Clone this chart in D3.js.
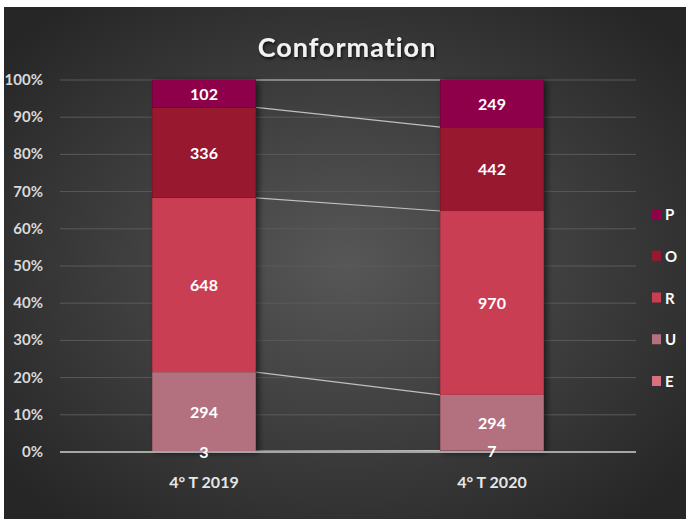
<!DOCTYPE html>
<html lang="en">
  <head>
    <meta charset="UTF-8" />
    <script src="https://d3js.org/d3.v7.min.js"></script>
    <style>
      body { margin: 0; background: #fff; }
      text { font-family: Lato, "Open Sans", sans-serif; font-weight: bold; }
    </style>
  </head>
  <body>
    <svg id="chart" width="686" height="519"></svg>
    <script>
      // data
      const categories = ["4° T 2019", "4° T 2020"];
      const seriesNames = ["E", "U", "R", "O", "P"];
      const E = [3, 7];
      const U = [294, 294];
      const R = [648, 970];
      const O = [336, 442];
      const P = [102, 249];
      const yTicks = [0, 0.1, 0.2, 0.3, 0.4, 0.5, 0.6, 0.7, 0.8, 0.9, 1];
      const colors = {
        E: "#d8707f",
        U: "#b3707e",
        R: "#c93e53",
        O: "#98192f",
        P: "#8e0049"
      };

      const values = { E, U, R, O, P };
      const rows = categories.map((c, i) => {
        const r = { cat: c };
        seriesNames.forEach(s => (r[s] = values[s][i]));
        return r;
      });

      const svg = d3.select("#chart");

      // background
      const defs = svg.append("defs");
      const grad = defs.append("radialGradient").attr("id", "bg")
        .attr("cx", "50%").attr("cy", "50%").attr("r", "65%");
      grad.append("stop").attr("offset", "0%").attr("stop-color", "#575757");
      grad.append("stop").attr("offset", "100%").attr("stop-color", "#262626");
      const shadow = defs.append("filter").attr("id", "shadow")
        .attr("x", "-20%").attr("y", "-10%").attr("width", "140%").attr("height", "120%");
      shadow.append("feDropShadow").attr("dx", 3).attr("dy", 1)
        .attr("stdDeviation", 3).attr("flood-color", "#000").attr("flood-opacity", 0.55);
      const tshadow = defs.append("filter").attr("id", "tshadow");
      tshadow.append("feDropShadow").attr("dx", 1).attr("dy", 2)
        .attr("stdDeviation", 1.5).attr("flood-color", "#000").attr("flood-opacity", 0.7);

      svg.append("rect").attr("x", 4).attr("y", 7).attr("width", 682).attr("height", 512)
        .attr("fill", "url(#bg)");

      const x = d3.scaleBand().domain(categories).range([60, 636])
        .paddingInner(0.64).paddingOuter(0.32);
      const y = d3.scaleLinear().domain([0, 1]).range([452, 80]);

      // grid
      svg.append("g").selectAll("line").data(yTicks.slice(1)).join("line")
        .attr("x1", 60).attr("x2", 636)
        .attr("y1", d => y(d)).attr("y2", d => y(d))
        .attr("stroke", "#5a5a5a").attr("stroke-width", 1);

      // y labels
      svg.append("g").selectAll("text").data(yTicks).join("text")
        .attr("x", 43).attr("y", d => y(d) + 5)
        .attr("text-anchor", "end").attr("fill", "#d9d9d9")
        .attr("font-size", 15)
        .text(d => d3.format(".0%")(d));

      // stacked percent
      const stack = d3.stack().keys(seriesNames).offset(d3.stackOffsetExpand);
      const layers = stack(rows);

      // series lines
      const lineG = svg.append("g");
      layers.forEach(layer => {
        lineG.append("line")
          .attr("x1", x(categories[0]) + x.bandwidth())
          .attr("x2", x(categories[1]))
          .attr("y1", y(layer[0][1])).attr("y2", y(layer[1][1]))
          .attr("stroke", "#bfbfbf").attr("stroke-width", 1.2);
      });

      // bars
      const barG = svg.append("g");
      categories.forEach(c => {
        barG.append("rect").attr("x", x(c)).attr("width", x.bandwidth())
          .attr("y", y(1)).attr("height", y(0) - y(1))
          .attr("fill", "#000").attr("filter", "url(#shadow)");
      });
      barG.selectAll("g.layer").data(layers).join("g").attr("class", "layer")
        .attr("fill", d => colors[d.key])
        .selectAll("rect").data(d => d).join("rect")
        .attr("x", d => x(d.data.cat)).attr("width", x.bandwidth())
        .attr("y", d => y(d[1])).attr("height", d => y(d[0]) - y(d[1]));

      // baseline
      svg.append("line").attr("x1", 60).attr("x2", 636)
        .attr("y1", y(0)).attr("y2", y(0))
        .attr("stroke", "#a6a6a6").attr("stroke-width", 2);

      // value labels
      const labG = svg.append("g");
      layers.forEach(layer => {
        layer.forEach(d => {
          labG.append("text")
            .attr("x", x(d.data.cat) + x.bandwidth() / 2)
            .attr("y", y((d[0] + d[1]) / 2) + 6)
            .attr("text-anchor", "middle").attr("fill", "#fff")
            .attr("font-size", 16)
            .text(d.data[layer.key]);
        });
      });

      // x labels
      svg.append("g").selectAll("text").data(categories).join("text")
        .attr("x", d => x(d) + x.bandwidth() / 2).attr("y", 488)
        .attr("text-anchor", "middle").attr("fill", "#e6e6e6")
        .attr("font-size", 16).text(d => d);

      // title
      svg.append("text").attr("x", 347).attr("y", 57)
        .attr("text-anchor", "middle").attr("fill", "#f2f2f2")
        .attr("font-size", 27).attr("letter-spacing", 1)
        .attr("filter", "url(#tshadow)")
        .text("Conformation");

      // legend
      const legend = svg.append("g");
      const legendOrder = seriesNames.slice().reverse();
      const ly = d3.scalePoint().domain(legendOrder).range([214, 381]);
      legend.selectAll("rect").data(legendOrder).join("rect")
        .attr("x", 652).attr("y", d => ly(d) - 5).attr("width", 9).attr("height", 10)
        .attr("fill", d => colors[d]);
      legend.selectAll("text").data(legendOrder).join("text")
        .attr("x", 665).attr("y", d => ly(d) + 6)
        .attr("fill", "#fff").attr("font-size", 15)
        .text(d => d);
    </script>
  </body>
</html>
